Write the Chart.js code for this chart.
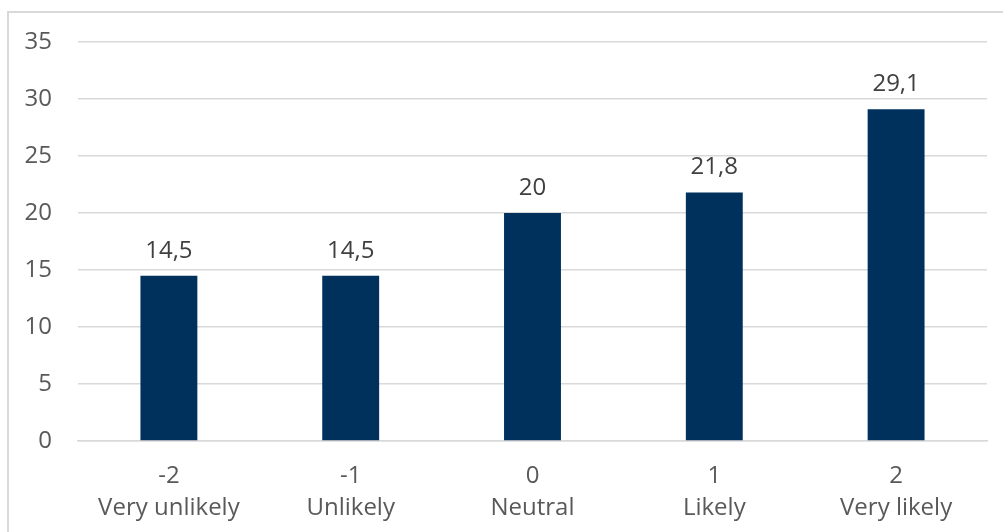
<!DOCTYPE html>
<html>
<head>
<meta charset="utf-8">
<script src="https://cdn.jsdelivr.net/npm/chart.js@4"></script>
<style>
  html, body { margin: 0; padding: 0; background: #fff; }
  #wrap { position: absolute; left: 0; top: 0; width: 1003px; height: 532px; overflow: hidden; }
  #frame { position: absolute; left: 7px; top: 11px; width: 1010px; height: 540px; border: 2px solid #d9d9d9; box-sizing: border-box; }
  canvas { position: absolute; left: 0; top: 0; }
</style>
</head>
<body>
<div id="wrap">
  <div id="frame"></div>
  <canvas id="chart" width="1003" height="532"></canvas>
</div>
<script>
const codes = ["-2", "-1", "0", "1", "2"];
const names = ["Very unlikely", "Unlikely", "Neutral", "Likely", "Very likely"];
const values = [14.5, 14.5, 20, 21.8, 29.1];

const fmt = v => String(v).replace(".", ",");

// labels above bars
const valueLabels = {
  id: "valueLabels",
  afterDatasetsDraw(chart) {
    const ctx = chart.ctx;
    const meta = chart.getDatasetMeta(0);
    ctx.save();
    ctx.font = "24px 'Open Sans'";
    ctx.fillStyle = "#404040";
    ctx.textAlign = "center";
    ctx.textBaseline = "alphabetic";
    meta.data.forEach((bar, i) => {
      ctx.fillText(fmt(values[i]), bar.x, bar.y - 18);
    });
    ctx.restore();
  }
};

new Chart(document.getElementById("chart").getContext("2d"), {
  type: "bar",
  data: {
    labels: codes.map((c, i) => [c, names[i]]),
    datasets: [{
      data: values,
      backgroundColor: "#00305C",
      barPercentage: 0.313,
      categoryPercentage: 1
    }]
  },
  options: {
    responsive: false,
    animation: false,
    layout: { padding: { top: 42, right: 16, left: 0, bottom: 0 } },
    plugins: { legend: { display: false }, tooltip: { enabled: false } },
    scales: {
      x: {
        grid: { display: false, drawTicks: false },
        border: { display: true, color: "#d9d9d9", width: 1.5 },
        ticks: {
          color: "#595959",
          font: { family: "'Open Sans'", size: 24, lineHeight: 1.35 },
          padding: 19,
          maxRotation: 0,
          autoSkip: false
        },
        afterFit(scale) { scale.height = 91; }
      },
      y: {
        min: 0,
        max: 35,
        ticks: {
          stepSize: 5,
          color: "#595959",
          font: { family: "'Open Sans'", size: 24 },
          padding: 26
        },
        grid: { color: "#d9d9d9", lineWidth: 1.5, drawTicks: false },
        border: { display: false },
        afterFit(scale) { scale.width = 78; }
      }
    }
  },
  plugins: [valueLabels]
});
</script>
</body>
</html>
